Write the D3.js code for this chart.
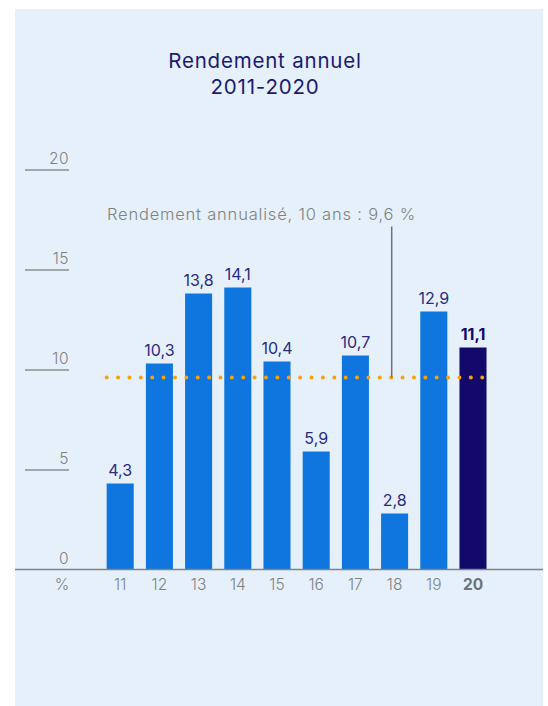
<!DOCTYPE html>
<html>
<head>
<meta charset="utf-8">
<script src="https://cdn.jsdelivr.net/npm/d3@7"></script>
<style>
  html, body { margin: 0; padding: 0; background: #ffffff; }
  svg { display: block; font-family: "Inter", "Open Sans", sans-serif; }
</style>
</head>
<body>
<svg id="chart" width="548" height="706"></svg>
<script>
const years = ["11", "12", "13", "14", "15", "16", "17", "18", "19", "20"];
const values = [4.3, 10.3, 13.8, 14.1, 10.4, 5.9, 10.7, 2.8, 12.9, 11.1];
const valueLabels = ["4,3", "10,3", "13,8", "14,1", "10,4", "5,9", "10,7", "2,8", "12,9", "11,1"];
const yTicks = [0, 5, 10, 15, 20];
const average = 9.6;
const averageLabel = "Rendement annualisé, 10 ans : 9,6 %";
const titleLines = ["Rendement annuel", "2011-2020"];
const unitLabel = "%";
const highlightYear = "20";

const FONT = "Inter, 'Open Sans', sans-serif";
const svg = d3.select("#chart");

// panel background
svg.append("rect").attr("x", 15).attr("y", 9).attr("width", 528).attr("height", 697).attr("fill", "#e6f0fa");

const x = d3.scaleBand().domain(years).range([100.6, 492.6]).paddingInner(0.31).paddingOuter(0.155);
const y = d3.scaleLinear().domain([0, 20]).range([569.5, 169.5]);

// title
svg.append("g").selectAll("text").data(titleLines).join("text")
  .attr("x", 265).attr("y", (d, i) => 68 + i * 26)
  .attr("text-anchor", "middle").attr("font-size", 20.5).attr("letter-spacing", 0.8).attr("fill", "#1b1a6e")
  .text(d => d);

// y axis stubs and labels
const yAxis = d3.axisLeft(y).tickValues(yTicks).tickSize(44).tickFormat(d => d);
const gy = svg.append("g").attr("transform", "translate(69,0)").call(yAxis);
gy.select(".domain").remove();
gy.selectAll(".tick line").attr("stroke", "#8a9090").attr("stroke-width", 1.3);
gy.selectAll(".tick text").attr("x", 0).attr("dy", -6).attr("text-anchor", "end")
  .attr("font-size", 15.5).attr("letter-spacing", 0.5).attr("fill", "#7d8282").attr("font-family", FONT).attr("font-weight", 300);
gy.selectAll(".tick").filter(d => d === 0).select("line").remove();

// bars
svg.append("g").selectAll("rect").data(values).join("rect")
  .attr("x", (d, i) => x(years[i])).attr("width", x.bandwidth())
  .attr("y", d => y(d)).attr("height", d => y(0) - y(d))
  .attr("fill", (d, i) => years[i] === highlightYear ? "#12096b" : "#0f76e0");

// value labels
svg.append("g").selectAll("text").data(values).join("text")
  .attr("x", (d, i) => x(years[i]) + x.bandwidth() / 2)
  .attr("y", d => y(d) - 8)
  .attr("text-anchor", "middle").attr("font-size", 16)
  .attr("font-weight", (d, i) => years[i] === highlightYear ? "bold" : "normal")
  .attr("fill", (d, i) => years[i] === highlightYear ? "#12096b" : "#2a2a7e")
  .text((d, i) => valueLabels[i]);

// baseline
svg.append("line").attr("x1", 15).attr("x2", 543).attr("y1", y(0)).attr("y2", y(0))
  .attr("stroke", "#7f8585").attr("stroke-width", 1.5);

// x axis labels
const xAxis = d3.axisBottom(x).tickSize(0).tickPadding(0);
const gx = svg.append("g").attr("transform", `translate(0,${y(0)})`).call(xAxis);
gx.select(".domain").remove();
gx.selectAll(".tick text").attr("y", 20).attr("dy", 0)
  .attr("font-size", 15.5).attr("font-family", FONT)
  .attr("font-weight", d => d === highlightYear ? "bold" : 300)
  .attr("fill", d => d === highlightYear ? "#6e7373" : "#7d8282");
svg.append("text").attr("x", 62).attr("y", y(0) + 20).attr("text-anchor", "middle")
  .attr("font-size", 15.5).attr("font-weight", 300).attr("fill", "#7d8282").text(unitLabel);

// average dotted line
const x0 = x(years[0]);
const x1 = x(years[years.length - 1]) + x.bandwidth();
svg.append("line").attr("x1", x0).attr("x2", x1).attr("y1", y(average)).attr("y2", y(average))
  .attr("stroke", "#f7a10f").attr("stroke-width", 4).attr("stroke-linecap", "round")
  .attr("stroke-dasharray", "0 11.38");

// annotation
const annX = 391.7;
svg.append("line").attr("x1", annX).attr("x2", annX).attr("y1", 226.5).attr("y2", y(average))
  .attr("stroke", "#6e7272").attr("stroke-width", 1.5);
svg.append("text").attr("x", 107).attr("y", 220).attr("font-size", 16.5).attr("letter-spacing", 0.8)
  .attr("font-weight", 300).attr("fill", "#7d8282")
  .text(averageLabel);
</script>
</body>
</html>
